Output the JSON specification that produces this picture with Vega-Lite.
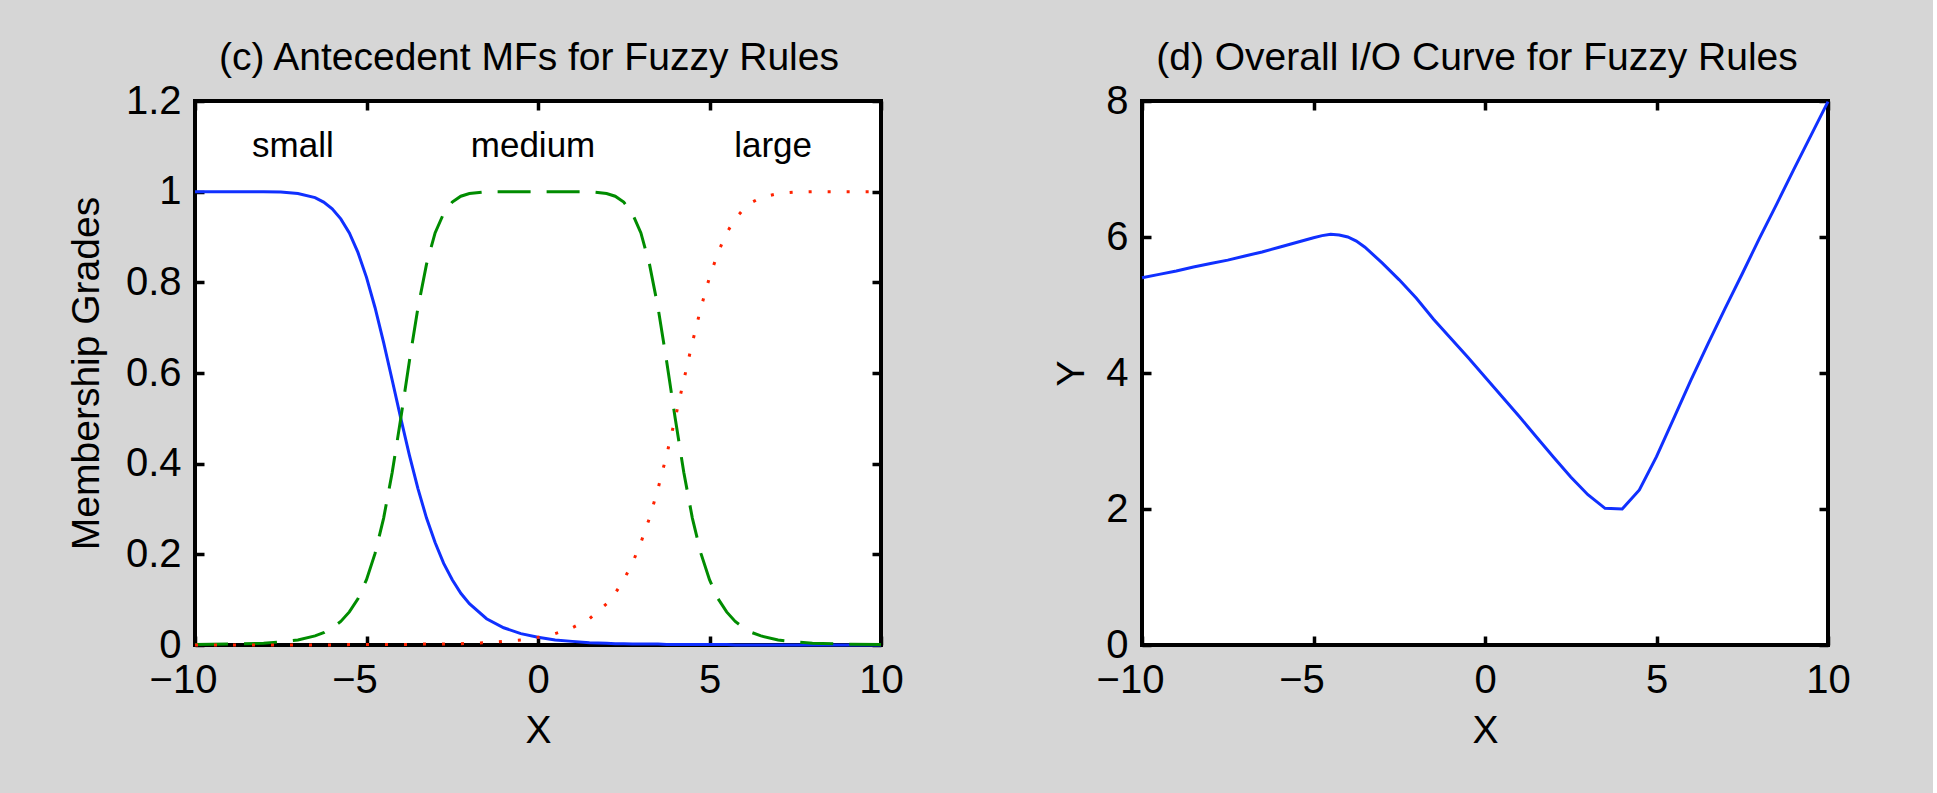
{
  "$schema": "https://vega.github.io/schema/vega-lite/v6.json",
  "background": "#d6d6d6",
  "autosize": {"type": "pad"},
  "padding": {"left": 64, "top": 37, "right": 80, "bottom": 43},
  "bounds": "flush",
  "spacing": 261,
  "config": {
    "view": {"stroke": "black", "strokeWidth": 4, "fill": "white"},
    "font": "Liberation Sans",
    "axis": {
      "domain": false, "grid": false, "tickColor": "black", "tickWidth": 3.5, "tickSize": -9,
      "labelFont": "Liberation Sans", "labelFontSize": 40, "labelColor": "black",
      "labelFlush": false, "labelOverlap": false, "labelBound": false,
      "titleFont": "Liberation Sans", "titleFontSize": 39, "titleFontWeight": "normal", "titleColor": "black"
    },
    "title": {"font": "Liberation Sans", "fontSize": 39, "fontWeight": "normal", "color": "black"}
  },
  "hconcat": [
    {
      "width": 686, "height": 544,
      "title": {"text": "(c) Antecedent MFs for Fuzzy Rules", "anchor": "middle", "frame": "group", "baseline": "alphabetic", "offset": -28, "dx": -9},
      "data": {"values": [
        {"x": -10, "small": 1, "medium": 0.001, "large": 0},
        {"x": -9, "small": 1, "medium": 0.002, "large": 0},
        {"x": -8, "small": 1, "medium": 0.004, "large": 0},
        {"x": -7.5, "small": 0.999, "medium": 0.007, "large": 0},
        {"x": -7, "small": 0.996, "medium": 0.011, "large": 0},
        {"x": -6.5, "small": 0.987, "medium": 0.020, "large": 0},
        {"x": -6.25, "small": 0.977, "medium": 0.027, "large": 0},
        {"x": -6, "small": 0.962, "medium": 0.038, "large": 0},
        {"x": -5.75, "small": 0.940, "medium": 0.052, "large": 0},
        {"x": -5.5, "small": 0.909, "medium": 0.073, "large": 0.001},
        {"x": -5.25, "small": 0.866, "medium": 0.102, "large": 0.001},
        {"x": -5, "small": 0.811, "medium": 0.144, "large": 0.001},
        {"x": -4.75, "small": 0.744, "medium": 0.202, "large": 0.001},
        {"x": -4.5, "small": 0.667, "medium": 0.280, "large": 0.001},
        {"x": -4.25, "small": 0.584, "medium": 0.381, "large": 0.001},
        {"x": -4, "small": 0.5, "medium": 0.5, "large": 0.001},
        {"x": -3.75, "small": 0.419, "medium": 0.626, "large": 0.001},
        {"x": -3.5, "small": 0.345, "medium": 0.744, "large": 0.002},
        {"x": -3.25, "small": 0.280, "medium": 0.840, "large": 0.002},
        {"x": -3, "small": 0.226, "medium": 0.909, "large": 0.002},
        {"x": -2.75, "small": 0.180, "medium": 0.952, "large": 0.002},
        {"x": -2.5, "small": 0.144, "medium": 0.977, "large": 0.003},
        {"x": -2.25, "small": 0.114, "medium": 0.990, "large": 0.003},
        {"x": -2, "small": 0.091, "medium": 0.996, "large": 0.004},
        {"x": -1.5, "small": 0.058, "medium": 1, "large": 0.005},
        {"x": -1, "small": 0.038, "medium": 1, "large": 0.008},
        {"x": -0.5, "small": 0.025, "medium": 1, "large": 0.011},
        {"x": 0, "small": 0.017, "medium": 1, "large": 0.017},
        {"x": 0.5, "small": 0.011, "medium": 1, "large": 0.025},
        {"x": 1, "small": 0.008, "medium": 1, "large": 0.038},
        {"x": 1.5, "small": 0.005, "medium": 1, "large": 0.058},
        {"x": 2, "small": 0.004, "medium": 0.996, "large": 0.091},
        {"x": 2.25, "small": 0.003, "medium": 0.990, "large": 0.114},
        {"x": 2.5, "small": 0.003, "medium": 0.977, "large": 0.144},
        {"x": 2.75, "small": 0.002, "medium": 0.952, "large": 0.180},
        {"x": 3, "small": 0.002, "medium": 0.909, "large": 0.226},
        {"x": 3.25, "small": 0.002, "medium": 0.840, "large": 0.280},
        {"x": 3.5, "small": 0.002, "medium": 0.744, "large": 0.345},
        {"x": 3.75, "small": 0.001, "medium": 0.626, "large": 0.419},
        {"x": 4, "small": 0.001, "medium": 0.5, "large": 0.5},
        {"x": 4.25, "small": 0.001, "medium": 0.381, "large": 0.584},
        {"x": 4.5, "small": 0.001, "medium": 0.280, "large": 0.667},
        {"x": 4.75, "small": 0.001, "medium": 0.202, "large": 0.744},
        {"x": 5, "small": 0.001, "medium": 0.144, "large": 0.811},
        {"x": 5.25, "small": 0.001, "medium": 0.102, "large": 0.866},
        {"x": 5.5, "small": 0.001, "medium": 0.073, "large": 0.909},
        {"x": 5.75, "small": 0, "medium": 0.052, "large": 0.940},
        {"x": 6, "small": 0, "medium": 0.038, "large": 0.962},
        {"x": 6.25, "small": 0, "medium": 0.027, "large": 0.977},
        {"x": 6.5, "small": 0, "medium": 0.020, "large": 0.987},
        {"x": 7, "small": 0, "medium": 0.011, "large": 0.996},
        {"x": 7.5, "small": 0, "medium": 0.007, "large": 0.999},
        {"x": 8, "small": 0, "medium": 0.004, "large": 1},
        {"x": 9, "small": 0, "medium": 0.002, "large": 1},
        {"x": 10, "small": 0, "medium": 0.001, "large": 1}
      ]},
      "layer": [
        {
          "mark": {"type": "line", "color": "#1030ff", "strokeWidth": 3},
          "encoding": {
            "x": {"field": "x", "type": "quantitative", "scale": {"domain": [-10, 10], "nice": false, "zero": false},
              "axis": {"orient": "bottom", "values": [-10, -5, 0, 5, 10], "format": "d", "labelPadding": 24,
                "labelOffset": {"condition": {"test": "datum.value < 0", "value": -12}, "value": 0},
                "title": "X", "titleBaseline": "alphabetic", "titleY": 97}},
            "y": {"field": "small", "type": "quantitative", "scale": {"domain": [0, 1.2], "nice": false},
              "axis": {"orient": "left", "values": [0, 0.2, 0.4, 0.6, 0.8, 1, 1.2], "format": "~g", "labelPadding": 23,
                "title": "Membership Grades", "titleX": -97, "titleY": 272, "titleAngle": -90, "titleBaseline": "alphabetic", "titleAlign": "center"}}
          }
        },
        {
          "mark": {"type": "line", "color": "#008c00", "strokeWidth": 3, "strokeDash": [33, 16]},
          "encoding": {
            "x": {"field": "x", "type": "quantitative", "axis": {"orient": "top", "values": [-10, -5, 0, 5, 10], "labels": false, "title": null}},
            "y": {"field": "medium", "type": "quantitative", "axis": {"orient": "right", "values": [0, 0.2, 0.4, 0.6, 0.8, 1, 1.2], "labels": false, "title": null}}
          }
        },
        {
          "mark": {"type": "line", "color": "#ff2200", "strokeWidth": 3, "strokeDash": [3, 16]},
          "encoding": {
            "x": {"field": "x", "type": "quantitative", "axis": null},
            "y": {"field": "large", "type": "quantitative", "axis": null}
          }
        },
        {
          "data": {"values": [
            {"x": -7, "y": 1.1, "label": "small"},
            {"x": 0, "y": 1.1, "label": "medium"},
            {"x": 7, "y": 1.1, "label": "large"}
          ]},
          "mark": {"type": "text", "font": "Liberation Sans", "fontSize": 35, "align": "center", "baseline": "middle", "dx": -5, "color": "black"},
          "encoding": {
            "x": {"field": "x", "type": "quantitative", "axis": null},
            "y": {"field": "y", "type": "quantitative", "axis": null},
            "text": {"field": "label"}
          }
        }
      ],
      "resolve": {"axis": {"x": "independent", "y": "independent"}}
    },
    {
      "width": 686, "height": 544,
      "title": {"text": "(d) Overall I/O Curve for Fuzzy Rules", "anchor": "middle", "frame": "group", "baseline": "alphabetic", "offset": -28, "dx": -8},
      "data": {"values": [
        {"x": -10, "y": 5.40}, {"x": -9.5, "y": 5.45}, {"x": -9, "y": 5.50}, {"x": -8.5, "y": 5.56},
        {"x": -8, "y": 5.61}, {"x": -7.5, "y": 5.66}, {"x": -7, "y": 5.72}, {"x": -6.5, "y": 5.78},
        {"x": -6, "y": 5.85}, {"x": -5.5, "y": 5.92}, {"x": -5, "y": 5.99}, {"x": -4.75, "y": 6.02},
        {"x": -4.5, "y": 6.04}, {"x": -4.25, "y": 6.03}, {"x": -4, "y": 6.00}, {"x": -3.75, "y": 5.94},
        {"x": -3.5, "y": 5.85}, {"x": -3, "y": 5.62}, {"x": -2.5, "y": 5.37}, {"x": -2, "y": 5.10},
        {"x": -1.5, "y": 4.79}, {"x": -1, "y": 4.51}, {"x": -0.5, "y": 4.23}, {"x": 0, "y": 3.94},
        {"x": 0.5, "y": 3.65}, {"x": 1, "y": 3.36}, {"x": 1.5, "y": 3.06}, {"x": 2, "y": 2.76},
        {"x": 2.5, "y": 2.47}, {"x": 3, "y": 2.21}, {"x": 3.5, "y": 2.01}, {"x": 4, "y": 2.00},
        {"x": 4.5, "y": 2.28}, {"x": 5, "y": 2.77}, {"x": 5.5, "y": 3.33}, {"x": 6, "y": 3.89},
        {"x": 6.5, "y": 4.43}, {"x": 7, "y": 4.95}, {"x": 7.5, "y": 5.46}, {"x": 8, "y": 5.98},
        {"x": 8.5, "y": 6.48}, {"x": 9, "y": 6.99}, {"x": 9.5, "y": 7.49}, {"x": 10, "y": 7.99}
      ]},
      "layer": [
        {
          "mark": {"type": "line", "color": "#1030ff", "strokeWidth": 3},
          "encoding": {
            "x": {"field": "x", "type": "quantitative", "scale": {"domain": [-10, 10], "nice": false, "zero": false},
              "axis": {"orient": "bottom", "values": [-10, -5, 0, 5, 10], "format": "d", "labelPadding": 24,
                "labelOffset": {"condition": {"test": "datum.value < 0", "value": -12}, "value": 0},
                "title": "X", "titleBaseline": "alphabetic", "titleY": 97}},
            "y": {"field": "y", "type": "quantitative", "scale": {"domain": [0, 8], "nice": false},
              "axis": {"orient": "left", "values": [0, 2, 4, 6, 8], "format": "d", "labelPadding": 23,
                "title": "Y", "titleX": -59, "titleY": 272, "titleAngle": -90, "titleBaseline": "alphabetic", "titleAlign": "center"}}
          }
        },
        {
          "mark": {"type": "line", "opacity": 0},
          "encoding": {
            "x": {"field": "x", "type": "quantitative", "axis": {"orient": "top", "values": [-10, -5, 0, 5, 10], "labels": false, "title": null}},
            "y": {"field": "y", "type": "quantitative", "axis": {"orient": "right", "values": [0, 2, 4, 6, 8], "labels": false, "title": null}}
          }
        }
      ],
      "resolve": {"axis": {"x": "independent", "y": "independent"}}
    }
  ]
}
